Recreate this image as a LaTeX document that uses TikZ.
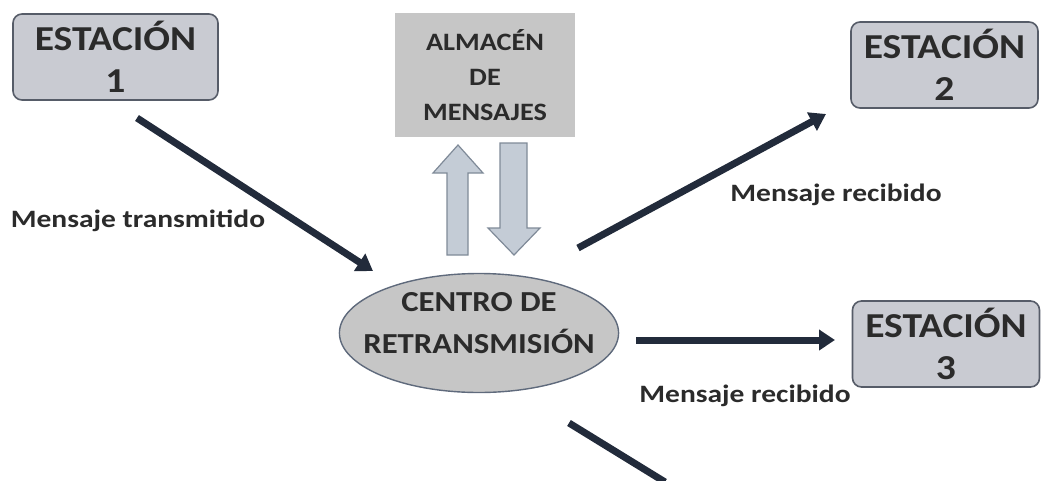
\documentclass[tikz,border=0pt]{standalone}
\usepackage{fontspec}
\setmainfont{Carlito}
\usetikzlibrary{shapes.geometric,arrows.meta}
\definecolor{boxfill}{HTML}{C9CBD2}
\definecolor{boxdraw}{HTML}{565C68}
\definecolor{storefill}{HTML}{C6C6C6}
\definecolor{navy}{HTML}{222B3B}
\definecolor{blkfill}{HTML}{C4CCD6}
\definecolor{blkdraw}{HTML}{7F8A98}
\definecolor{elldraw}{HTML}{5F6A7C}
\definecolor{txt}{HTML}{2B2B2B}
\newcommand{\hs}[1]{\scalebox{1.13}[1]{#1}}
\newcommand{\hl}[1]{\scalebox{1.18}[1]{#1}}
\tikzset{
  station/.style={draw=boxdraw, line width=1.6pt, fill=boxfill, rounded corners=9pt,
    minimum width=187pt, minimum height=86pt, align=center, inner sep=0pt,
    font=\bfseries\fontsize{35}{42}\selectfont, text=txt},
  store/.style={fill=storefill, minimum width=180pt, minimum height=124pt, align=center,
    inner sep=0pt, font=\bfseries\fontsize{25}{35}\selectfont, text=txt},
  center/.style={ellipse, draw=elldraw, line width=1.4pt, fill=storefill,
    minimum width=272pt, minimum height=119pt, align=center, inner xsep=-17pt, inner ysep=0pt,
    font=\bfseries\fontsize{29}{42}\selectfont, text=txt},
  link/.style={draw=navy, line width=7pt, -{Triangle[length=16pt,width=20pt]}},
  lbl/.style={font=\bfseries\fontsize{25}{28}\selectfont, text=txt, inner sep=0pt, anchor=base},
  blk/.style={draw=blkdraw, line width=1.2pt, fill=blkfill}
}
\begin{document}
\begin{tikzpicture}[x=1pt,y=-1pt]
\useasboundingbox (0,0) rectangle (1042,480);
\node[station, minimum width=205pt] (s1) at (115.5,57) {\hs{ESTACIÓN}\\\hs{1}};
\node[store] (st) at (485,75) {\hs{ALMACÉN}\\\hs{DE}\\\hs{MENSAJES}};
\node[station] (s2) at (944.5,65) {\hs{ESTACIÓN}\\\hs{2}};
\node[station] (s3) at (946,344) {\hs{ESTACIÓN}\\\hs{3}};
\node[center] (c) at (479,333) {\hs{CENTRO DE}\\\hs{RETRANSMISIÓN}\rule[-20pt]{0pt}{0pt}};
\coordinate (a1s) at (137,118);
\coordinate (a1e) at (373,271);
\coordinate (a2s) at (578,248);
\coordinate (a2e) at (826,114);
\coordinate (a3s) at (636,340);
\coordinate (a3e) at (835,340);
\coordinate (a4s) at (569,423);
\coordinate (a4e) at (665,482);
\draw[link] (a1s) -- (a1e);
\draw[link] (a2s) -- (a2e);
\draw[link] (a3s) -- (a3e);
\draw[draw=navy, line width=7pt] (a4s) -- (a4e);
\node[lbl] (l1) at (138,227) {\hl{Mensaje transmitido}};
\node[lbl] (l2) at (836,201) {\hl{Mensaje recibido}};
\node[lbl] (l3) at (745,402) {\hl{Mensaje recibido}};
% block arrows
\draw[blk] (447,255) -- (447,173) -- (433,173) -- (458,145) -- (483,173) -- (468,173) -- (468,255) -- cycle;
\draw[blk] (500,143) -- (527,143) -- (527,228) -- (540,228) -- (514,255) -- (488,228) -- (500,228) -- cycle;
\end{tikzpicture}
\end{document}
